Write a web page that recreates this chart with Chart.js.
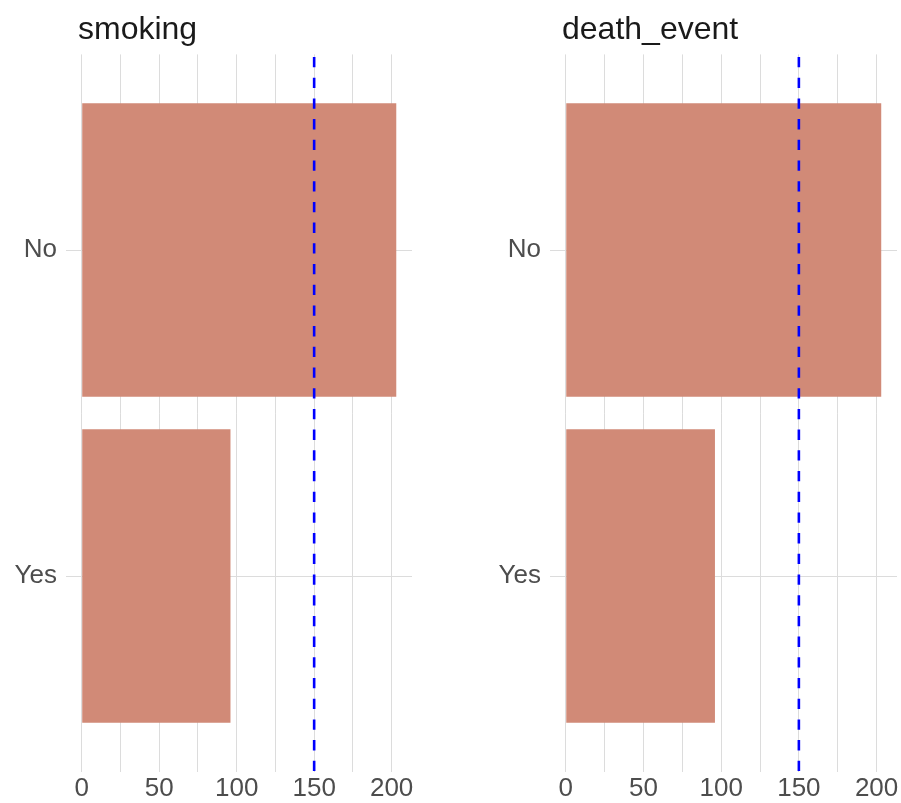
<!DOCTYPE html>
<html>
<head>
<meta charset="utf-8">
<script src="https://cdn.jsdelivr.net/npm/chart.js@4/dist/chart.umd.min.js"></script>
<style>
  html, body { margin: 0; padding: 0; background: #ffffff; }
  #wrap { position: relative; width: 901px; height: 803px; overflow: hidden; background: #fff; }
  canvas { position: absolute; top: 0; }
  .ttl { position: absolute; font-family: "Liberation Sans", Arial, sans-serif; font-size: 32px; line-height: 32px; color: #1a1a1a; white-space: nowrap; }
</style>
</head>
<body>
<div id="wrap">
  <canvas id="c1" width="450" height="803" style="left:0px"></canvas>
  <canvas id="c2" width="451" height="803" style="left:450px"></canvas>
  <div class="ttl" id="t1" style="left:78px; top:12px;">smoking</div>
  <div class="ttl" id="t2" style="left:562px; top:12px;">death_event</div>
</div>
<script>
// ---- data ----
const categories = ["No", "Yes"];
const smokingCounts = [203, 96];
const deathEventCounts = [203, 96];
const panelTitles = ["smoking", "death_event"];
const xGridValues = [0, 25, 50, 75, 100, 125, 150, 175, 200];
const xTickLabels = [0, 50, 100, 150, 200];
const referenceValue = 150;
const xRange = [-10.15, 213.15];
const yRange = [-0.6, 1.6];

const barColor = "#d18a77";
const gridColor = "#dcdcdc";
const tickColor = "#4d4d4d";
const fontFamily = "'Liberation Sans', Arial, sans-serif";

const refLinePlugin = {
  id: "refLine",
  afterDatasetsDraw(chart) {
    const xs = chart.scales.x;
    const area = chart.chartArea;
    const px = xs.getPixelForValue(referenceValue);
    const ctx = chart.ctx;
    ctx.save();
    ctx.strokeStyle = "#0000ff";
    ctx.lineWidth = 2.6;
    ctx.setLineDash([10.3, 10.4]);
    ctx.lineDashOffset = -2.6;
    ctx.beginPath();
    ctx.moveTo(px, area.top);
    ctx.lineTo(px, area.bottom);
    ctx.stroke();
    ctx.restore();
  }
};

function makePanel(canvasId, counts, yAxisWidth, rightPad) {
  const ctx = document.getElementById(canvasId).getContext("2d");
  return new Chart(ctx, {
    type: "bar",
    data: {
      datasets: [{
        data: categories.map((c, i) => ({ x: counts[i], y: i })),
        backgroundColor: barColor,
        borderWidth: 0,
        barPercentage: 0.9,
        categoryPercentage: 1.0
      }]
    },
    options: {
      indexAxis: "y",
      responsive: false,
      animation: false,
      devicePixelRatio: 1,
      layout: { padding: { top: 54.4, right: rightPad, bottom: 0, left: 0 } },
      plugins: { legend: { display: false }, tooltip: { enabled: false }, title: { display: false } },
      scales: {
        x: {
          type: "linear",
          position: "bottom",
          min: xRange[0],
          max: xRange[1],
          offset: false,
          afterBuildTicks(scale) { scale.ticks = xGridValues.map(v => ({ value: v })); },
          afterFit(scale) { scale.height = 31.4; },
          grid: { color: gridColor, lineWidth: 1, drawTicks: false, offset: false },
          border: { display: false },
          ticks: {
            padding: 2,
            color: tickColor,
            font: { family: fontFamily, size: 26 },
            maxRotation: 0,
            autoSkip: false,
            callback: (v) => xTickLabels.includes(v) ? String(v) : ""
          }
        },
        y: {
          type: "linear",
          reverse: true,
          min: yRange[0],
          max: yRange[1],
          offset: false,
          afterBuildTicks(scale) { scale.ticks = categories.map((c, i) => ({ value: i })); },
          afterFit(scale) { scale.width = yAxisWidth; },
          grid: { color: gridColor, lineWidth: 1, drawTicks: false, offset: false },
          border: { display: false },
          ticks: {
            padding: 9,
            color: tickColor,
            font: { family: fontFamily, size: 26 },
            autoSkip: false,
            callback: (v) => categories[v] !== undefined ? categories[v] : ""
          }
        }
      }
    },
    plugins: [refLinePlugin]
  });
}

makePanel("c1", smokingCounts, 66, 38);
makePanel("c2", deathEventCounts, 100, 4);
</script>
</body>
</html>
